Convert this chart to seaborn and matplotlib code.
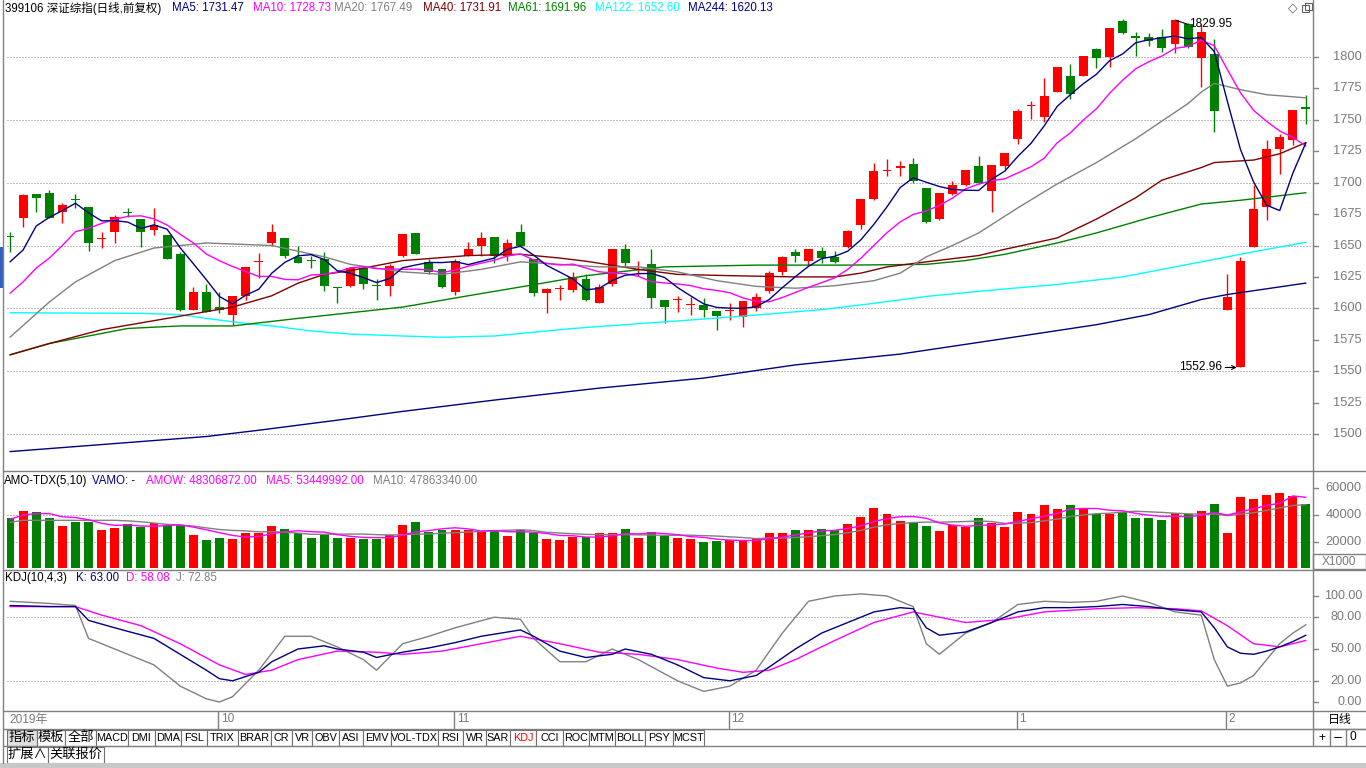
import numpy as np
import pandas as pd
import matplotlib
matplotlib.use("Agg")
import matplotlib.pyplot as plt
from matplotlib.patches import Rectangle
import seaborn as sns

sns.set_theme(style="white")
plt.rcParams['font.family'] = ['Liberation Sans', 'Noto Sans CJK SC', 'DejaVu Sans']
plt.rcParams['axes.unicode_minus'] = False

# ---------------- data ----------------
opens = [1657.5, 1672, 1691, 1692, 1677, 1686.5, 1681, 1655.5, 1661, 1676.5,
         1671, 1662, 1658, 1643, 1599, 1613, 1601, 1595, 1610, 1636.5,
         1652, 1656, 1641, 1638, 1639, 1617, 1618, 1632, 1618, 1618,
         1642, 1660, 1637, 1631, 1613, 1642, 1650, 1656.5, 1642, 1661,
         1639, 1612, 1615, 1614.5, 1623, 1604.4, 1619, 1647, 1630.6, 1635,
         1607, 1606.4, 1602.4, 1603, 1598, 1597.8, 1593.4, 1600, 1614, 1629,
         1645, 1638, 1646, 1640.5, 1649, 1666, 1687, 1709.3, 1711.4, 1715,
         1696, 1671, 1691, 1698, 1713, 1693, 1713, 1735, 1761, 1752,
         1772.5, 1784.5, 1785, 1806, 1800, 1829, 1817, 1816, 1815.7, 1810.4,
         1826, 1799, 1802.7, 1599, 1553.5, 1649, 1680.5, 1726.7, 1734, 1759.5]
highs = [1661, 1691, 1691, 1694, 1684, 1691, 1681, 1661, 1674, 1680,
         1671, 1680, 1658, 1645, 1617, 1619, 1613, 1610, 1633, 1644,
         1667, 1656, 1650, 1642, 1645, 1617, 1633, 1633, 1623, 1635,
         1659, 1660, 1639, 1631, 1639, 1653, 1661, 1657, 1655, 1667,
         1639, 1616, 1618.5, 1629, 1627, 1619, 1647, 1651, 1638, 1647,
         1607, 1610, 1609, 1608, 1598, 1604, 1606, 1612, 1630, 1641.5,
         1647, 1647.4, 1648.5, 1645.5, 1662, 1687, 1716, 1719, 1717.5, 1720,
         1696, 1692, 1701, 1710, 1721, 1714, 1724, 1758.5, 1765, 1783,
         1792, 1794.4, 1801, 1807, 1823, 1830, 1820, 1819, 1822, 1829.95,
         1827, 1826, 1814.4, 1627, 1641, 1698, 1734, 1738.7, 1757.6, 1770]
lows = [1645, 1665, 1677, 1672, 1668, 1680, 1646, 1648, 1652, 1673,
        1649, 1658, 1639, 1598, 1599, 1597, 1596, 1587, 1607, 1624,
        1650, 1640, 1636, 1632, 1614, 1604, 1617, 1615, 1607, 1610,
        1641, 1643, 1627, 1616, 1611, 1642, 1642, 1636, 1638, 1649,
        1610, 1596, 1606.6, 1613, 1606, 1604, 1618, 1634, 1625.6, 1600,
        1588, 1597, 1595, 1593, 1583, 1591, 1585, 1598, 1612, 1626.5,
        1637, 1634, 1636, 1636, 1648, 1663, 1686, 1705.3, 1705, 1700,
        1668, 1670, 1690, 1697, 1699, 1677, 1711, 1731, 1751, 1748,
        1772, 1766.4, 1785, 1791, 1792, 1818, 1801, 1808.5, 1804, 1803,
        1807, 1776.5, 1740.5, 1599, 1552.96, 1648.5, 1670, 1706.7, 1730, 1747]
closes = [1657, 1690, 1688, 1672, 1682, 1686, 1652, 1656, 1673, 1676,
          1661, 1666, 1639, 1599, 1613, 1597, 1599, 1610, 1633, 1637,
          1661, 1642, 1636, 1637.5, 1618, 1616, 1632, 1619, 1617.5, 1634,
          1659, 1643, 1629, 1617, 1638, 1647, 1656, 1642, 1652, 1650,
          1612, 1615, 1615.3, 1624.6, 1607, 1617, 1647, 1636, 1631, 1608,
          1601, 1606.8, 1602.8, 1599, 1594, 1598.2, 1606, 1609, 1628, 1641,
          1642, 1647, 1640, 1637, 1661.5, 1687, 1709, 1709.7, 1713, 1701,
          1669, 1692, 1698, 1710, 1700, 1714, 1724, 1757, 1761.5, 1769,
          1792, 1770.4, 1801, 1799, 1823, 1818.7, 1815, 1813, 1807, 1829.5,
          1808, 1820, 1757.3, 1609, 1638, 1679, 1727, 1736, 1757.6, 1759]
volumes = [38000, 43200, 42200, 38000, 32000, 35000, 35000, 28800, 30300, 33500,
           31200, 33800, 32300, 32300, 25000, 21300, 22800, 22000, 26700, 26700,
           32000, 29500, 26300, 22800, 25200, 22800, 23000, 22300, 22000, 24800,
           32700, 34800, 27300, 28800, 28500, 28500, 27000, 28800, 24500, 28800,
           26300, 22300, 21500, 23500, 23500, 26700, 26700, 29500, 22800, 27300,
           24300, 22500, 22000, 20000, 20500, 21000, 21000, 22000, 26700, 26700,
           28800, 28800, 29500, 28800, 33500, 38500, 45200, 40700, 35500, 34500,
           31800, 28000, 32300, 31200, 37700, 34000, 31000, 42200, 40700, 47500,
           44500, 47500, 44300, 40500, 41000, 42500, 37700, 37700, 36300, 41300,
           40500, 43000, 48200, 26700, 53500, 52000, 55200, 56500, 54200, 48300]

# first values of the short averages (before enough bars are visible)
ma5_head = [1637, 1646.4, 1665.5, 1672.4]
ma10_head = [1612, 1621, 1632, 1640, 1650, 1661, 1663.6, 1667.6, 1670.8]
vma5_head = [36800, 40000, 41000, 41000]
vma10_head = [34500, 36000, 36000, 36000, 36000, 36000, 36000, 36000, 36000]

ma20_idx = [0, 3, 5, 8, 11, 15, 20, 24, 26, 30, 33, 36, 39, 42, 45, 48, 51, 54, 57, 60,
            63, 66, 68, 70, 72, 74, 77, 80, 83, 86, 88, 90, 91, 92, 94, 96, 99]
ma20_val = [1577, 1605, 1621, 1638, 1648, 1652, 1650, 1641, 1635, 1629, 1627, 1631, 1637, 1635,
            1633, 1633, 1629, 1622, 1617.5, 1616, 1618, 1622, 1628, 1641, 1650, 1660, 1680, 1699,
            1716, 1735, 1749, 1763, 1772, 1779, 1774, 1770, 1767.5]
ma40_idx = [0, 3, 7, 12, 17, 20, 22, 24, 26, 30, 35, 39, 42, 44, 48, 51, 55, 60, 63, 65,
            67, 70, 74, 76, 80, 83, 86, 88, 91, 92, 95, 97, 99]
ma40_val = [1563, 1572, 1583, 1592, 1601, 1610, 1620, 1627, 1630, 1638, 1642, 1643, 1640, 1637.5,
            1631, 1627, 1626, 1625, 1625, 1628, 1633, 1637, 1642, 1647, 1656, 1671, 1688, 1702,
            1712, 1716, 1718, 1723, 1731.9]
ma61_idx = [0, 3, 6, 9, 13, 17, 22, 26, 30, 35, 39, 44, 50, 57, 64, 70, 73, 76, 80, 83,
            87, 91, 94, 99]
ma61_val = [1563, 1572, 1578, 1584, 1586, 1586, 1592, 1596.5, 1601, 1610, 1617, 1626, 1633,
            1634.4, 1634.4, 1635, 1638, 1643, 1652, 1660, 1672, 1683, 1686, 1692]
ma122_idx = [0, 10, 13, 15, 18, 20, 23, 26, 30, 33, 37, 40, 43, 47, 51, 55, 58, 62, 66, 70,
             75, 80, 85, 90, 95, 99]
ma122_val = [1596.5, 1596, 1595, 1592, 1588, 1586, 1582, 1579.5, 1578, 1577, 1578, 1581, 1584,
             1587, 1590, 1593, 1595.5, 1599, 1604, 1609.5, 1614.5, 1619, 1625, 1635, 1645, 1652.6]
ma244_idx = [0, 5, 10, 15, 19, 25, 30, 37, 45, 53, 60, 68, 76, 83, 87, 91, 93, 99]
ma244_val = [1486, 1490, 1494, 1498, 1503, 1511, 1518, 1527, 1536.5, 1544.5, 1555, 1563.6,
             1576, 1587, 1595, 1607, 1611, 1620.1]

kdj_k_idx = [0, 3, 5, 6, 8, 11, 13, 15, 16, 17, 19, 20, 22, 24, 25, 27, 28, 30, 32, 34, 36,
             38, 39, 40, 41, 42, 44, 46, 47, 49, 51, 53, 55, 57, 58, 60, 62, 64, 66, 68, 69,
             70, 71, 73, 75, 77, 79, 81, 83, 85, 87, 89, 91, 92, 93, 94, 95, 96, 97, 98, 99]
kdj_k_val = [91, 90, 90, 77, 70, 60, 45, 30, 22, 20, 28, 38, 50, 53, 50, 47, 42, 47, 51, 56,
             62, 66, 68, 62, 55, 48, 42, 45, 50, 45, 35, 23, 20, 25, 33, 50, 65, 75, 85, 89,
             88, 70, 63, 66, 75, 85, 89, 89, 90, 92, 90, 87, 85, 70, 52, 46, 45, 48, 52, 57, 63]
kdj_d_idx = [0, 5, 7, 10, 13, 16, 18, 20, 22, 25, 28, 30, 33, 36, 39, 42, 45, 48, 51, 54,
             56, 58, 60, 63, 66, 69, 71, 73, 76, 79, 83, 86, 89, 91, 93, 95, 97, 99]
kdj_d_val = [90, 90, 82, 72, 55, 35, 26, 30, 40, 48, 47, 45, 48, 55, 62, 55, 47, 45, 40, 32,
             28, 30, 40, 58, 75, 85, 80, 75, 78, 85, 88, 89, 88, 86, 72, 55, 52, 58.08]
kdj_j_idx = [0, 3, 5, 6, 8, 11, 13, 15, 16, 17, 19, 21, 23, 25, 27, 28, 30, 32, 34, 37, 39,
             40, 42, 44, 46, 48, 51, 53, 55, 57, 59, 61, 63, 65, 67, 69, 70, 71, 73, 75, 77,
             79, 81, 83, 85, 87, 89, 91, 92, 93, 94, 95, 96, 97, 98, 99]
kdj_j_val = [95, 93, 91, 60, 50, 35, 15, 3, 0, 5, 30, 62, 62, 52, 40, 30, 55, 62, 70, 80, 78,
             60, 38, 38, 50, 40, 20, 10, 15, 30, 65, 95, 100, 102, 100, 90, 55, 45, 65, 75, 92,
             95, 94, 95, 100, 94, 85, 82, 40, 15, 18, 25, 40, 55, 65, 72.85]

month_idx = [16, 34, 55, 77, 93]
month_lbl = ["10", "11", "12", "1", "2"]

price_ticks = [1500, 1525, 1550, 1575, 1600, 1625, 1650, 1675, 1700, 1725, 1750, 1775, 1800]
price_grid = [1500, 1550, 1600, 1650, 1700, 1750, 1800]
vol_ticks = [20000, 40000, 60000]
kdj_ticks = [0, 20, 50, 80, 100]

tabs = ["指标", "模板", "全部", "MACD", "DMI", "DMA", "FSL", "TRIX", "BRAR", "CR", "VR", "OBV",
        "ASI", "EMV", "VOL-TDX", "RSI", "WR", "SAR", "KDJ", "CCI", "ROC", "MTM", "BOLL", "PSY", "MCST"]
tab_edges = [7, 37, 65, 96, 128, 155, 181, 207, 238, 271, 292, 312, 339, 363, 391, 438, 463,
             486, 510, 536, 563, 589, 615, 645, 673, 704]

# ---------------- colours ----------------
RED = "#FF0000"
GRN = "#008000"
NAVY = "#000080"
MAG = "#FF00FF"
GRAY = "#808080"
MAROON = "#800000"
CYAN = "#00FFFF"

W, H = 1366, 768
fig = plt.figure(figsize=(W / 100, H / 100), dpi=100)
fig.patch.set_facecolor("white")


def px_axes(x0, y0, x1, y1, z=1):
    a = fig.add_axes([x0 / W, 1 - y1 / H, (x1 - x0) / W, (y1 - y0) / H], zorder=z)
    a.set_axis_off()
    a.patch.set_alpha(0)
    return a


STEP = 13.09
XC0 = 10.0
AX_L, AX_R = 7, 1312


def ix(px):
    return (px - XC0) / STEP


XLIM = (ix(AX_L), ix(AX_R))
PPX = 1.2567  # pixels per index point


def py(p):
    return 57 + (1800 - p) * PPX


def vy(v):
    return 568.4 - v / 749.0


def ky(k):
    return 702 - k * 1.06


n = len(closes)
idx = np.arange(n)
o = np.array(opens, float)
c = np.array(closes, float)
hh = np.array(highs, float)
ll = np.array(lows, float)
up = c >= o
cols = np.where(up, RED, GRN)

# ---------------- main price panel ----------------
M_T, M_B = 17, 470
axm = px_axes(AX_L, M_T, AX_R, M_B, z=2)
for g in price_grid:
    axm.axhline(g, color=GRAY, lw=0.72, ls=(0, (1, 2)), zorder=1)

axm.vlines(idx, ll, hh, colors=cols, lw=1.0, zorder=3)
body_b = np.minimum(o, c)
body_h = np.maximum(np.abs(c - o), 0.85)
axm.bar(idx, body_h, bottom=body_b, width=0.68, color=cols, linewidth=0, zorder=4)

cs = pd.Series(c)
ma5 = cs.rolling(5).mean().to_numpy()
ma5[:4] = ma5_head
ma10 = cs.rolling(10).mean().to_numpy()
ma10[:9] = ma10_head

line_kw = dict(estimator=None, sort=False, legend=False, linewidth=1.0)
sns.lineplot(x=ma244_idx, y=ma244_val, ax=axm, color=NAVY, zorder=5, **line_kw)
sns.lineplot(x=ma122_idx, y=ma122_val, ax=axm, color=CYAN, zorder=5, **line_kw)
sns.lineplot(x=ma61_idx, y=ma61_val, ax=axm, color=GRN, zorder=5, **line_kw)
sns.lineplot(x=ma40_idx, y=ma40_val, ax=axm, color=MAROON, zorder=5, **line_kw)
sns.lineplot(x=ma20_idx, y=ma20_val, ax=axm, color=GRAY, zorder=5, **line_kw)
sns.lineplot(x=idx, y=ma10, ax=axm, color=MAG, zorder=6, **line_kw)
sns.lineplot(x=idx, y=ma5, ax=axm, color=NAVY, zorder=6, **line_kw)
axm.set_xlim(*XLIM)
axm.set_ylim(1800 - (M_B - 57) / PPX, 1800 + (57 - M_T) / PPX)
axm.set_axis_off()

# ---------------- volume panel ----------------
V_T, V_B = 472, 569
axv = px_axes(AX_L, V_T, AX_R, V_B, z=2)
for g in [20000, 40000]:
    axv.axhline(g, color=GRAY, lw=0.72, ls=(0, (1, 2)), zorder=1)
axv.bar(idx, volumes, width=0.68, color=cols, linewidth=0, zorder=3)
vs = pd.Series(np.array(volumes, float))
vma5 = vs.rolling(5).mean().to_numpy()
vma5[:4] = vma5_head
vma10 = vs.rolling(10).mean().to_numpy()
vma10[:9] = vma10_head
sns.lineplot(x=idx, y=vma10, ax=axv, color=GRAY, zorder=5, **line_kw)
sns.lineplot(x=idx, y=vma5, ax=axv, color=MAG, zorder=5, **line_kw)
axv.set_xlim(*XLIM)
axv.set_ylim((568.4 - V_B) * 749, (568.4 - V_T) * 749)
axv.set_axis_off()

# ---------------- KDJ panel ----------------
K_T, K_B = 571, 710
axk = px_axes(AX_L, K_T, AX_R, K_B, z=2)
for g in [80, 20]:
    axk.axhline(g, color=GRAY, lw=0.72, ls=(0, (1, 2)), zorder=1)
sns.lineplot(x=kdj_j_idx, y=kdj_j_val, ax=axk, color=GRAY, zorder=4, **line_kw)
sns.lineplot(x=kdj_d_idx, y=kdj_d_val, ax=axk, color=MAG, zorder=5, **line_kw)
sns.lineplot(x=kdj_k_idx, y=kdj_k_val, ax=axk, color=NAVY, zorder=6, **line_kw)
axk.set_xlim(*XLIM)
axk.set_ylim((702 - K_B) / 1.06, (702 - K_T) / 1.06)
axk.set_axis_off()

# ---------------- UI overlay in pixel coordinates ----------------
ui = fig.add_axes([0, 0, 1, 1], zorder=10)
ui.set_xlim(0, W)
ui.set_ylim(H, 0)
ui.set_axis_off()
ui.patch.set_alpha(0)

LC = "#808080"
ui.plot([3, 3], [0, 763], color=LC, lw=1)
ui.plot([1313, 1313], [0, 746], color=LC, lw=1)
for yy in [471, 569.5, 711]:
    ui.plot([3, W], [yy, yy], color=LC, lw=1)
ui.add_patch(Rectangle((0, 247), 2.5, 41, color="#3060C0", lw=0))

FS = 8.3
hdr = [(5, "399106 深证综指(日线,前复权)", "black"),
       (172, "MA5: 1731.47", NAVY), (253, "MA10: 1728.73", MAG),
       (334, "MA20: 1767.49", GRAY), (423, "MA40: 1731.91", MAROON),
       (508, "MA61: 1691.96", GRN), (595, "MA122: 1652.60", CYAN),
       (688, "MA244: 1620.13", NAVY)]
for x, t, col in hdr:
    ui.text(x, 8, t, color=col, fontsize=FS, ha="left", va="center")
ui.text(1293, 8, "◇", color="#606060", fontsize=9, ha="center", va="center",
        family=["DejaVu Sans"])
ui.add_patch(Rectangle((1302, 5), 7, 7, fill=False, ec="#606060", lw=0.8))
ui.add_patch(Rectangle((1305, 2.5), 7, 7, fill=False, ec="#606060", lw=0.8))

vhdr = [(4, "AMO-TDX(5,10)", "black"), (92, "VAMO: -", NAVY),
        (146, "AMOW: 48306872.00", MAG), (266, "MA5: 53449992.00", MAG),
        (373, "MA10: 47863340.00", GRAY)]
for x, t, col in vhdr:
    ui.text(x, 481, t, color=col, fontsize=FS, ha="left", va="center")

khdr = [(5, "KDJ(10,4,3)", "black"), (76, "K: 63.00", NAVY),
        (126, "D: 58.08", MAG), (176, "J: 72.85", GRAY)]
for x, t, col in khdr:
    ui.text(x, 578, t, color=col, fontsize=FS, ha="left", va="center")

AXC = "#7a7a7a"
for p in price_ticks:
    y = py(p)
    ui.plot([1313, 1318], [y, y], color=LC, lw=1)
    ui.text(1362, y, f"{p}", color=AXC, fontsize=9.3, ha="right", va="center")
for v in vol_ticks:
    y = vy(v)
    ui.plot([1313, 1318], [y, y], color=LC, lw=1)
    ui.text(1362, y, f"{v}", color=AXC, fontsize=9.3, ha="right", va="center")
ui.add_patch(Rectangle((1313, 554), 53, 15, fill=False, ec=LC, lw=1))
ui.text(1339, 562, "X1000", color=AXC, fontsize=8.6, ha="center", va="center")
for k in kdj_ticks:
    y = ky(k)
    ui.plot([1313, 1318], [y, y], color=LC, lw=1)
    ui.text(1362, y, f"{k:.2f}", color=AXC, fontsize=9.0, ha="right", va="center")

xh = XC0 + 89 * STEP
ui.plot([xh + 1, xh + 13], [py(1829.95) + 1, py(1829.95) + 5], color="black", lw=0.8)
ui.text(xh + 14, py(1829.95) + 5, "1829.95", color="black", fontsize=8.6, ha="left", va="center")
xl = XC0 + 94 * STEP
ui.annotate("", xy=(xl - 1, py(1552.96)), xytext=(xl - 18, py(1552.96)),
            arrowprops=dict(arrowstyle="->", color="black", lw=0.8, mutation_scale=7))
ui.text(xl - 18, py(1552.96), "1552.96", color="black", fontsize=8.6, ha="right", va="center")

ui.text(9, 719.5, "2019年", color=AXC, fontsize=8.6, ha="left", va="center")
for mi, ml in zip(month_idx, month_lbl):
    xm = XC0 + mi * STEP - 1
    ui.plot([xm, xm], [711, 728], color=LC, lw=1)
    ui.text(xm + 2.5, 719.5, ml, color=AXC, fontsize=8.6, ha="left", va="center")

ui.plot([1313, W], [728.5, 728.5], color=LC, lw=1)
ui.text(1339.5, 720, "日线", color="black", fontsize=8.6, ha="center", va="center")
for xb in [1329.5, 1345.5]:
    ui.plot([xb, xb], [729, 746], color=LC, lw=1)
ui.text(1322, 737.5, "+", color="black", fontsize=8.6, ha="center", va="center")
ui.text(1337.5, 737.5, "−", color="black", fontsize=8.6, ha="center", va="center",
        family=["DejaVu Sans"])
ui.text(1353, 737.5, "0", color="black", fontsize=8.6, ha="center", va="center")

ui.plot([3, W], [728.5, 728.5], color=LC, lw=1)
ui.plot([3, W], [746, 746], color=LC, lw=1)
for i, t in enumerate(tabs):
    x0, x1 = tab_edges[i], tab_edges[i + 1]
    fc = "#E0E0E0" if i == 0 else "white"
    ui.add_patch(Rectangle((x0, 729.5), x1 - x0, 16, fc=fc, ec="#707070", lw=0.8))
    col = RED if t == "KDJ" else "black"
    fs = 9.5 if i < 3 else 7.8
    ui.text((x0 + x1) / 2, 737.8, t, color=col, fontsize=fs, ha="center", va="center")
row2 = [(7, 48, "扩展∧"), (48, 104, "关联报价")]
for x0, x1, t in row2:
    ui.add_patch(Rectangle((x0, 746.5), x1 - x0, 16, fc="white", ec="#707070", lw=0.8))
    ui.text((x0 + x1) / 2, 754.5, t, color="black", fontsize=9.5, ha="center", va="center",
            family=["Noto Sans CJK SC", "DejaVu Sans"])
ui.add_patch(Rectangle((0, 763), W, 5, color="#C8C8C8", lw=0))

fig.savefig("out.png", dpi=100, facecolor="white")
